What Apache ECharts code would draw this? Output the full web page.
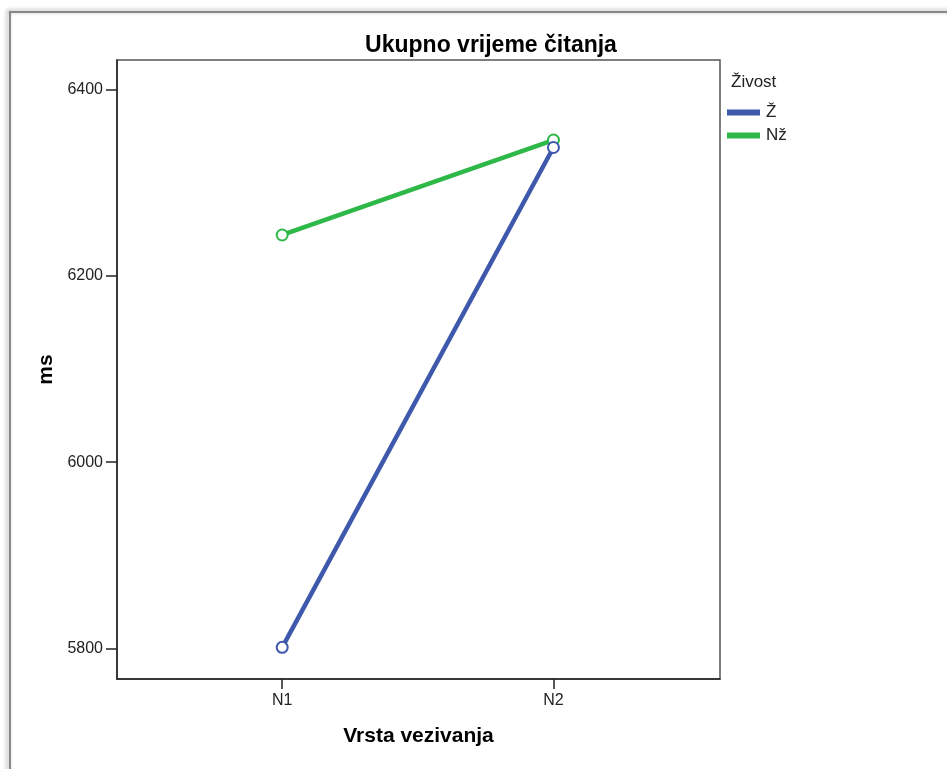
<!DOCTYPE html>
<html>
<head>
<meta charset="utf-8">
<script src="https://cdn.jsdelivr.net/npm/echarts@6/dist/echarts.min.js"></script>
<style>
html,body{margin:0;padding:0;background:#fff;}
#chart{width:947px;height:769px;}
</style>
</head>
<body>
<div id="chart"></div>
<script>
const categories = ['N1', 'N2'];
const seriesNames = ['Ž', 'Nž'];
const zValues = [5801, 6338];
const nzValues = [6244, 6346];
const yTicks = [5800, 6000, 6200, 6400];
const titleText = 'Ukupno vrijeme čitanja';
const xName = 'Vrsta vezivanja';
const yName = 'ms';
const legendTitle = 'Živost';

const FONT = 'Liberation Sans';
const colors = ['#3E58AC', '#2EB848'];
const allValues = [zValues, nzValues];

const chart = echarts.init(document.getElementById('chart'), null, {renderer: 'canvas'});

const series = seriesNames.map((name, s) => ({
  name: name,
  type: 'line',
  data: categories.map((c, i) => [i, allValues[s][i]]),
  symbol: 'emptyCircle',
  symbolSize: 11,
  showSymbol: true,
  lineStyle: {color: colors[s], width: 4.5},
  itemStyle: {color: colors[s], borderColor: colors[s], borderWidth: 1.5},
  emphasis: {disabled: true},
  z: 3 + (1 - s)
}));

chart.setOption({
  animation: false,
  backgroundColor: '#fff',
  title: {
    text: titleText,
    left: 486,
    top: 29,
    textAlign: 'center',
    textStyle: {fontFamily: FONT, fontSize: 23, fontWeight: 'bold', color: '#000'}
  },
  graphic: [
    {
      type: 'rect',
      shape: {x: 10, y: 12, width: 1000, height: 1000},
      style: {fill: 'none', stroke: '#888', lineWidth: 2, shadowBlur: 4, shadowColor: 'rgba(0,0,0,0.35)', shadowOffsetX: -2, shadowOffsetY: -1},
      silent: true,
      z: -10
    },
    {
      type: 'text',
      left: 731,
      top: 74,
      style: {text: legendTitle, fontFamily: FONT, fontSize: 17, fill: '#222'}
    }
  ],
  legend: {
    data: seriesNames,
    orient: 'vertical',
    left: 727,
    top: 104,
    icon: 'rect',
    itemWidth: 31,
    itemHeight: 4,
    itemGap: 6,
    padding: 0,
    textStyle: {fontFamily: FONT, fontSize: 17, color: '#222', padding: [0, 0, 0, 2]},
    selectedMode: false
  },
  grid: {
    left: 117, top: 60, right: 227, bottom: 90,
    show: true, borderColor: '#555', borderWidth: 1.5, backgroundColor: '#fff'
  },
  xAxis: {
    type: 'value',
    min: -0.609,
    max: 1.614,
    name: xName,
    nameLocation: 'middle',
    nameGap: 47,
    nameTextStyle: {fontFamily: FONT, fontSize: 21, fontWeight: 'bold', color: '#000'},
    axisLine: {show: true, onZero: false, lineStyle: {color: '#222', width: 1.5}},
    axisTick: {show: true, length: 10, customValues: categories.map((c, i) => i), lineStyle: {color: '#222', width: 1.5}},
    axisLabel: {
      customValues: categories.map((c, i) => i),
      formatter: v => categories[Math.round(v)],
      margin: 14,
      fontFamily: FONT, fontSize: 16, color: '#222'
    },
    splitLine: {show: false}
  },
  yAxis: {
    type: 'value',
    min: 5767,
    max: 6432,
    name: yName,
    nameLocation: 'middle',
    nameGap: 60,
    nameRotate: 90,
    nameTextStyle: {fontFamily: FONT, fontSize: 21, fontWeight: 'bold', color: '#000'},
    axisLine: {show: true, onZero: false, lineStyle: {color: '#222', width: 1.5}},
    axisTick: {show: true, length: 11, customValues: yTicks, lineStyle: {color: '#222', width: 1.5}},
    axisLabel: {
      customValues: yTicks,
      formatter: v => String(v),
      margin: 14,
      fontFamily: FONT, fontSize: 16, color: '#222'
    },
    splitLine: {show: false}
  },
  series: series
});
</script>
</body>
</html>
